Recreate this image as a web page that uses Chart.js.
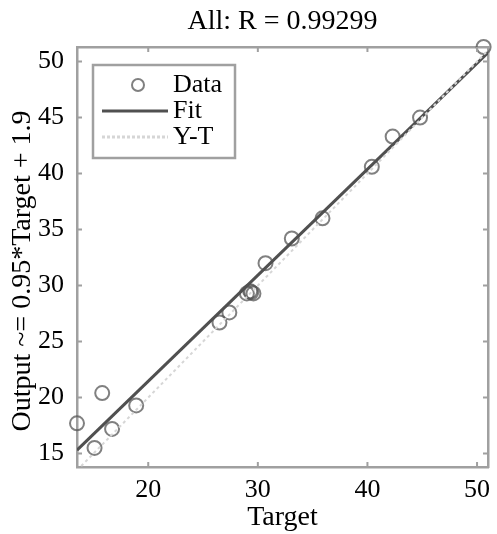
<!DOCTYPE html>
<html>
<head>
<meta charset="utf-8">
<script src="https://cdn.jsdelivr.net/npm/chart.js@4.4.1/dist/chart.umd.min.js"></script>
<style>
html,body{margin:0;padding:0;background:#fff}
</style>
</head>
<body>
<canvas id="chart" width="497" height="534"></canvas>
<script>
// values
const targets = [13.5, 15.1, 15.8, 16.7, 18.9, 26.5, 27.4, 29.0, 29.3, 29.6, 29.4, 30.7, 33.1, 35.9, 40.4, 42.3, 44.8, 50.6]
const outputs = [17.7, 15.5, 20.4, 17.2, 19.3, 26.7, 27.6, 29.3, 29.5, 29.3, 29.4, 32.0, 34.2, 36.0, 40.6, 43.3, 45.0, 51.3]

const xLimits = [13.5, 51.0]
const yLimits = [13.8, 51.3]
const fitX = [13.5, 51.0]
const fitY = [15.3, 50.8]
const ytX = [13.5, 51.0]
const ytY = [13.5, 51.0]

const xTicks = [20, 30, 40, 50]
const yTicks = [15, 20, 25, 30, 35, 40, 45, 50]

const titleText = 'All: R = 0.99299'
const xLabel = 'Target'
const yLabel = 'Output ~= 0.95*Target + 1.9'
const legendLabels = ['Data', 'Fit', 'Y-T']

const serif = "'Liberation Serif', 'Times New Roman', serif"
const frameColor = '#a0a0a0'
const dataColor = 'rgba(85,85,85,0.75)'
const fitColor = '#505050'
const ytColor = '#d6d6d6'

function makeIcon(kind){
  const c = document.createElement('canvas')
  const g = c.getContext('2d')
  if(kind === 'circle'){
    // drawn off-centre so it lines up over the line swatches' middle
    c.width = 36; c.height = 20
    g.strokeStyle = dataColor
    g.lineWidth = 2
    g.beginPath()
    g.arc(26, 10, 6, 0, Math.PI*2)
    g.stroke()
  } else {
    c.width = 76; c.height = 6
    g.strokeStyle = kind === 'fit' ? fitColor : ytColor
    g.lineWidth = 3
    if(kind === 'yt') g.setLineDash([3, 2])
    g.beginPath()
    g.moveTo(10, 3)
    g.lineTo(76, 3)
    g.stroke()
  }
  return c
}
const icons = [makeIcon('circle'), makeIcon('fit'), makeIcon('yt')]

const framePlugin = {
  id: 'frame',
  afterLayout(chart){
    const lg = chart.legend
    if(!lg) return
    lg.left = chart.chartArea.left + 23
    lg.top = chart.chartArea.top + 25
  },
  afterDatasetsDraw(chart){
    const ctx = chart.ctx
    const a = chart.chartArea
    const xs = chart.scales.x, ys = chart.scales.y
    ctx.save()
    ctx.strokeStyle = frameColor
    ctx.lineWidth = 2
    ctx.beginPath()
    xTicks.forEach(v => {
      const px = xs.getPixelForValue(v)
      ctx.moveTo(px, a.bottom); ctx.lineTo(px, a.bottom - 5)
      ctx.moveTo(px, a.top); ctx.lineTo(px, a.top + 5)
    })
    yTicks.forEach(v => {
      const py = ys.getPixelForValue(v)
      ctx.moveTo(a.left, py); ctx.lineTo(a.left + 5, py)
      ctx.moveTo(a.right, py); ctx.lineTo(a.right - 5, py)
    })
    ctx.stroke()
    const lg = chart.legend
    ctx.lineWidth = 2.5
    ctx.strokeRect(lg.left - 7, lg.top - 7, 142, 93)
    ctx.restore()
  }
}

const ctx = document.getElementById('chart')

new Chart(ctx, {
  type: 'scatter',
  data: {
    datasets: [
      {
        label: legendLabels[0],
        data: targets.map((t, i) => ({x: t, y: outputs[i]})),
        pointRadius: 7,
        pointBorderWidth: 2,
        borderColor: dataColor,
        backgroundColor: 'rgba(0,0,0,0)',
        showLine: false,
        clip: false,
        order: 3
      },
      {
        label: legendLabels[1],
        data: fitX.map((t, i) => ({x: t, y: fitY[i]})),
        showLine: true,
        pointRadius: 0,
        borderColor: fitColor,
        borderWidth: 3,
        order: 2
      },
      {
        label: legendLabels[2],
        data: ytX.map((t, i) => ({x: t, y: ytY[i]})),
        showLine: true,
        pointRadius: 0,
        borderColor: ytColor,
        borderWidth: 2,
        borderDash: [3, 3],
        order: 1
      }
    ]
  },
  options: {
    responsive: false,
    animation: false,
    devicePixelRatio: 1,
    layout: {padding: 0},
    scales: {
      x: {
        type: 'linear', position: 'bottom',
        min: xLimits[0], max: xLimits[1],
        afterBuildTicks: s => { s.ticks = xTicks.map(v => ({value: v})) },
        afterFit: s => { s.height = 67; s.paddingLeft = 0; s.paddingRight = 0 },
        grid: {display: false},
        border: {display: true, color: frameColor, width: 2.5},
        ticks: {color: '#000', font: {family: serif, size: 26}, padding: 0, maxRotation: 0, autoSkip: false},
        title: {display: true, text: xLabel, color: '#000', font: {family: serif, size: 28}, padding: {top: 0, bottom: 0}}
      },
      y: {
        type: 'linear', position: 'left',
        min: yLimits[0], max: yLimits[1],
        afterBuildTicks: s => { s.ticks = yTicks.map(v => ({value: v})) },
        afterFit: s => { s.width = 77; s.paddingTop = 0; s.paddingBottom = 0 },
        grid: {display: false},
        border: {display: true, color: frameColor, width: 2.5},
        ticks: {color: '#000', font: {family: serif, size: 26}, padding: 5, autoSkip: false},
        // trailing en spaces nudge the rotated label down, as in the original
        title: {display: true, text: yLabel + '\u2002\u2002', color: '#000', font: {family: serif, size: 28}, padding: {top: 6, bottom: 0}}
      },
      x2: {
        type: 'linear', position: 'top',
        min: xLimits[0], max: xLimits[1],
        afterFit: s => { s.height = 47; s.paddingLeft = 0; s.paddingRight = 0 },
        grid: {display: false},
        border: {display: true, color: frameColor, width: 2.5},
        ticks: {display: false},
        title: {display: true, text: titleText, color: '#000', font: {family: serif, size: 28}, padding: {top: 5, bottom: 0}}
      },
      y2: {
        type: 'linear', position: 'right',
        min: yLimits[0], max: yLimits[1],
        afterFit: s => { s.width = 4 },
        grid: {display: false},
        border: {display: true, color: frameColor, width: 2.5},
        ticks: {display: false}
      }
    },
    plugins: {
      tooltip: {enabled: false},
      legend: {
        position: 'chartArea',
        align: 'start',
        labels: {
          usePointStyle: true,
          pointStyleWidth: 60,
          boxWidth: 60,
          padding: 0,
          color: '#000',
          font: {family: serif, size: 26},
          generateLabels: chart => legendLabels.map((t, i) => ({
            text: t,
            pointStyle: icons[i],
            fillStyle: 'rgba(0,0,0,0)',
            strokeStyle: 'rgba(0,0,0,0)',
            lineWidth: 0,
            hidden: false,
            datasetIndex: i,
            fontColor: '#000'
          }))
        }
      }
    }
  },
  plugins: [framePlugin]
})
</script>
</body>
</html>
